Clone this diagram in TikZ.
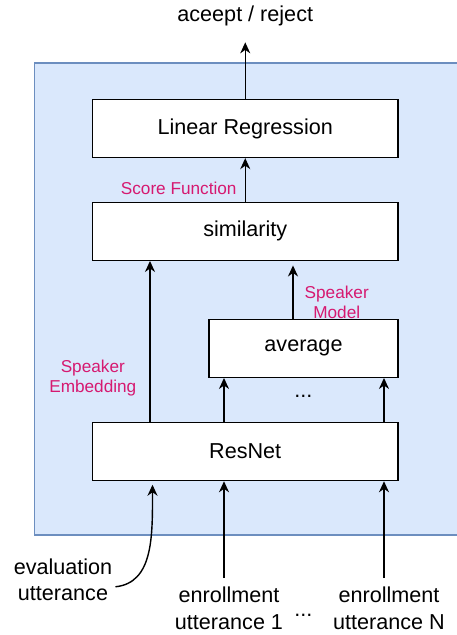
\documentclass[tikz,border=0pt]{standalone}
\usepackage{fontspec}
\setmainfont{Liberation Sans}
\usetikzlibrary{arrows.meta,positioning}
\definecolor{panelfill}{HTML}{DAE8FC}
\definecolor{paneldraw}{HTML}{6C8EBF}
\definecolor{notepink}{RGB}{214,25,112}

\begin{document}
\begin{tikzpicture}[
    x=1pt, y=-1pt,
    box/.style={
        rectangle,
        draw=black,
        fill=white,
        line width=1.3pt,
        minimum height=58pt,
        minimum width=305.5pt,
        font=\fontsize{21.6}{26.3}\selectfont
    },
    arrow/.style={
        -{Stealth[length=11pt,width=10pt,inset=3.5pt]},
        line width=1.4pt,
        black
    },
    note/.style={
        font=\fontsize{17.2}{20}\selectfont,
        text=notepink,
        align=center,
        inner sep=2pt
    },
    term/.style={
        font=\fontsize{21.6}{26.3}\selectfont,
        align=center,
        inner xsep=3pt,
        inner ysep=9pt
    }
]
\useasboundingbox (0,0) rectangle (456,635);

% Panel
\draw[fill=panelfill, draw=paneldraw, line width=1.2pt] (34.5,63) rectangle (470,535);

% Columns of the arrows
\coordinate (embcol) at (150,0);
\coordinate (evalcol) at (152.5,0);
\coordinate (modelcol) at (293,0);
\coordinate (col1) at (224,0);
\coordinate (colN) at (384,0);

% Boxes
\node[box] (linreg) at (245.25,128.5) {Linear Regression};
\node[box, below=43.5pt of linreg] (similarity) {similarity};
\node[box, below=161pt of similarity] (resnet) {ResNet};
\node[box, minimum width=189pt, above left=44pt and 0pt of resnet.north east] (average) {average};

% Output
\node[term, inner ysep=16pt, above=56.5pt of linreg] (decision) {aceept / reject};

% Inputs
\node[term, anchor=north] (evaluation) at (63,549.5) {evaluation\\utterance};
\node[term, anchor=north] (enroll1) at (229,578) {enrollment\\utterance 1};
\node[term, anchor=north] (enrollN) at (389,578) {enrollment\\utterance N};
\node[font=\fontsize{21.6}{26.3}\selectfont, anchor=base] (listdots) at (303.3,616) {...};
\node[font=\fontsize{21.6}{26.3}\selectfont, anchor=base] (gapdots) at (303.3,397.5) {...};

% Arrows
\draw[arrow] (linreg.north) -- (decision.south);
\draw[arrow] (similarity.north) -- node[note, pos=0.3, left=6pt] {Score Function} (linreg.south);
\draw[arrow] (resnet.north -| embcol) -- node[note, pos=0.27, left=11pt] {Speaker\\Embedding} (similarity.south -| embcol);
\draw[arrow, shorten >=4.5pt] (average.north -| modelcol) -- node[note, pos=0.29, right=9pt] {Speaker\\Model} (similarity.south -| modelcol);
\draw[arrow] (resnet.north -| col1) -- (average.south -| col1);
\draw[arrow] (resnet.north -| colN) -- (average.south -| colN);
\draw[arrow] (enroll1.north -| col1) -- (resnet.south -| col1);
\draw[arrow] (enrollN.north -| colN) -- (resnet.south -| colN);
\draw[arrow, shorten >=3.5pt] ([yshift=-7pt]evaluation.east) .. controls +(38,-4) and +(0,55) .. (resnet.south -| evalcol);

\end{tikzpicture}
\end{document}
